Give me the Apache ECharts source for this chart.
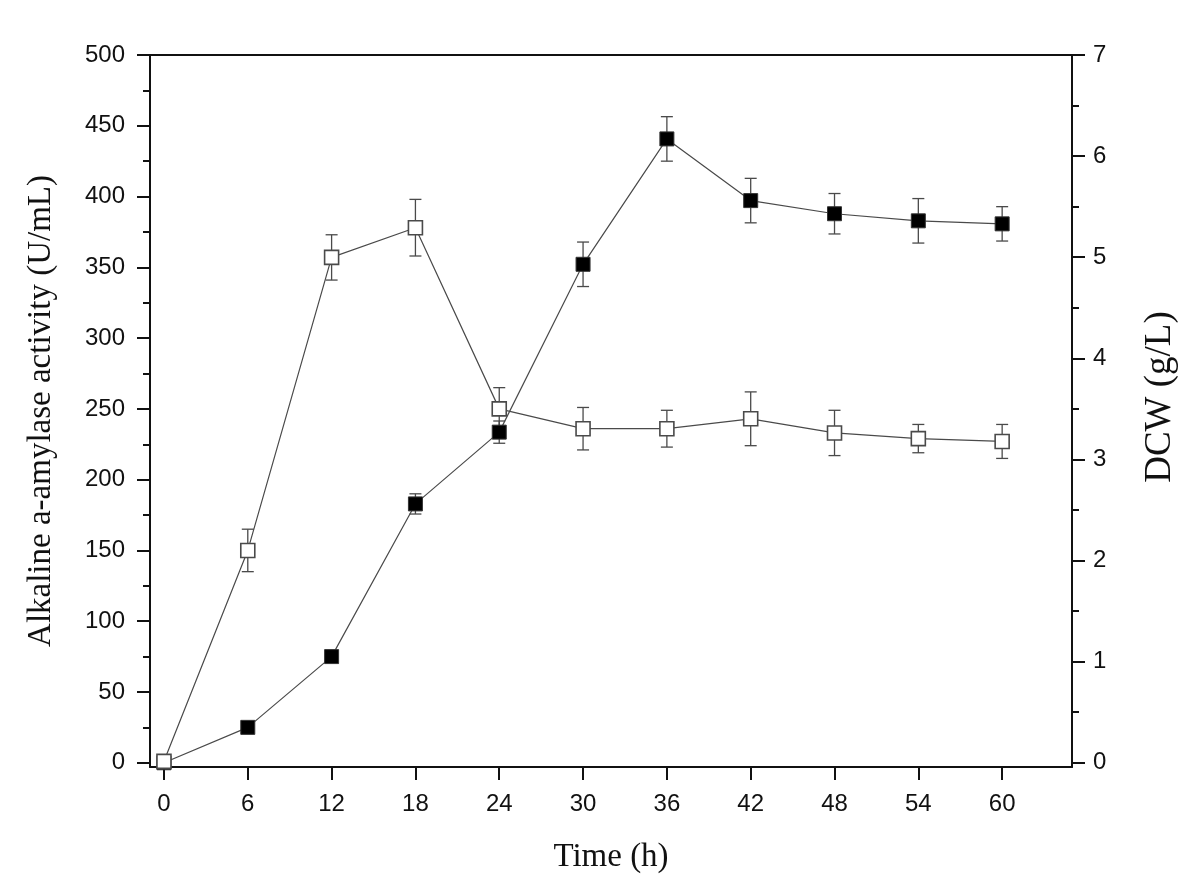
<!DOCTYPE html>
<html>
<head>
<meta charset="utf-8">
<script src="https://cdn.jsdelivr.net/npm/echarts@6/dist/echarts.min.js"></script>
<style>
  html, body { margin: 0; padding: 0; background: #fff; }
  #chart { width: 1200px; height: 892px; }
</style>
</head>
<body>
<div id="chart"></div>
<script>
// sampling times (h)
const timeH = [0, 6, 12, 18, 24, 30, 36, 42, 48, 54, 60]
// alkaline a-amylase activity (U/mL), open squares, left axis
const activity = [1, 150, 357, 378, 250, 236, 236, 243, 233, 229, 227]
const activityErr = [0, 15, 16, 20, 15, 15, 13, 19, 16, 10, 12]
// dry cell weight (g/L), filled squares, right axis
const dcw = [0, 0.35, 1.05, 2.56, 3.27, 4.93, 6.17, 5.56, 5.43, 5.36, 5.33]
const dcwErr = [0, 0.02, 0.03, 0.1, 0.11, 0.22, 0.22, 0.22, 0.2, 0.22, 0.17]

// tick labels
const xTicks = [0, 6, 12, 18, 24, 30, 36, 42, 48, 54, 60]
const leftTicks = [0, 50, 100, 150, 200, 250, 300, 350, 400, 450, 500]
const leftMinor = [25, 75, 125, 175, 225, 275, 325, 375, 425, 475]
const rightTicks = [0, 1, 2, 3, 4, 5, 6, 7]
const rightMinor = [0.5, 1.5, 2.5, 3.5, 4.5, 5.5, 6.5]

const sansFont = '"Liberation Sans", Arial, sans-serif'
const serifFont = '"Liberation Serif", "Times New Roman", serif'
const axisColor = '#111'
const markColor = '#4a4a4a'

const chart = echarts.init(document.getElementById('chart'))

function errorBarItem(params, api) {
  const x = api.value(0)
  const y = api.value(1)
  const e = api.value(2)
  const top = api.coord([x, y + e])
  const bot = api.coord([x, y - e])
  const half = 6
  const style = { stroke: markColor, lineWidth: 1.3 }
  return {
    type: 'group',
    children: [
      { type: 'line', shape: { x1: top[0], y1: top[1], x2: bot[0], y2: bot[1] }, style },
      { type: 'line', shape: { x1: top[0] - half, y1: top[1], x2: top[0] + half, y2: top[1] }, style },
      { type: 'line', shape: { x1: bot[0] - half, y1: bot[1], x2: bot[0] + half, y2: bot[1] }, style },
    ],
  }
}

function yAxisBase(position, min, max) {
  return {
    type: 'value',
    position,
    min,
    max,
    splitLine: { show: false },
    axisLine: { show: true, onZero: false, lineStyle: { color: axisColor, width: 2 } },
    axisTick: { show: true, length: 13, lineStyle: { color: axisColor, width: 2 } },
    axisLabel: { color: axisColor, fontSize: 24, fontFamily: sansFont },
  }
}

const leftMain = yAxisBase('left', -3, 500)
leftMain.axisTick.customValues = leftTicks
leftMain.axisLabel.customValues = leftTicks
leftMain.axisLabel.margin = 25
leftMain.name = 'Alkaline a-amylase activity (U/mL)'
leftMain.nameLocation = 'middle'
leftMain.nameRotate = 90
leftMain.nameGap = 92
leftMain.nameTextStyle = { fontFamily: serifFont, fontSize: 33, color: axisColor }

const leftSub = yAxisBase('left', -3, 500)
leftSub.axisLine.show = false
leftSub.axisTick.length = 7
leftSub.axisTick.customValues = leftMinor
leftSub.axisLabel = { show: false }

const rightMain = yAxisBase('right', -0.042, 7)
rightMain.axisTick.customValues = rightTicks
rightMain.axisLabel.customValues = rightTicks
rightMain.axisLabel.margin = 21
rightMain.name = 'DCW (g/L)'
rightMain.nameLocation = 'middle'
rightMain.nameRotate = 90
rightMain.nameGap = 70
rightMain.nameTextStyle = { fontFamily: serifFont, fontSize: 37, color: axisColor, padding: [0, 0, 0, 28] }

const rightSub = yAxisBase('right', -0.042, 7)
rightSub.axisLine.show = false
rightSub.axisTick.length = 7
rightSub.axisTick.customValues = rightMinor
rightSub.axisLabel = { show: false }

const option = {
  backgroundColor: '#fff',
  animation: false,
  grid: { left: 150, right: 128, top: 55, bottom: 125 },
  xAxis: [
    {
      type: 'value',
      position: 'bottom',
      min: -1,
      max: 65,
      name: 'Time (h)',
      nameLocation: 'middle',
      nameGap: 74,
      nameTextStyle: { fontFamily: serifFont, fontSize: 33, color: axisColor },
      splitLine: { show: false },
      axisLine: { onZero: false, lineStyle: { color: axisColor, width: 2 } },
      axisTick: { length: 13, customValues: xTicks, lineStyle: { color: axisColor, width: 2 } },
      axisLabel: { customValues: xTicks, margin: 25, color: axisColor, fontSize: 24, fontFamily: sansFont },
    },
    {
      type: 'value',
      position: 'top',
      min: -1,
      max: 65,
      splitLine: { show: false },
      axisLine: { onZero: false, lineStyle: { color: axisColor, width: 2 } },
      axisTick: { show: false },
      axisLabel: { show: false },
    },
  ],
  yAxis: [leftMain, leftSub, rightMain, rightSub],
  series: [
    {
      name: 'DCW error',
      type: 'custom',
      xAxisIndex: 0,
      yAxisIndex: 2,
      renderItem: errorBarItem,
      data: timeH.map((t, i) => [t, dcw[i], dcwErr[i]]),
      z: 1,
    },
    {
      name: 'Activity error',
      type: 'custom',
      xAxisIndex: 0,
      yAxisIndex: 0,
      renderItem: errorBarItem,
      data: timeH.map((t, i) => [t, activity[i], activityErr[i]]),
      z: 1,
    },
    {
      name: 'DCW',
      type: 'line',
      xAxisIndex: 0,
      yAxisIndex: 2,
      data: timeH.map((t, i) => [t, dcw[i]]),
      symbol: 'rect',
      symbolSize: 14,
      lineStyle: { color: markColor, width: 1.2 },
      itemStyle: { color: '#000', borderColor: '#333', borderWidth: 1 },
      z: 3,
    },
    {
      name: 'Activity',
      type: 'line',
      xAxisIndex: 0,
      yAxisIndex: 0,
      data: timeH.map((t, i) => [t, activity[i]]),
      symbol: 'rect',
      symbolSize: 14,
      lineStyle: { color: markColor, width: 1.2 },
      itemStyle: { color: '#fff', borderColor: markColor, borderWidth: 1.6 },
      z: 4,
    },
  ],
}

chart.setOption(option)
window.addEventListener('resize', () => chart.resize())
</script>
</body>
</html>
